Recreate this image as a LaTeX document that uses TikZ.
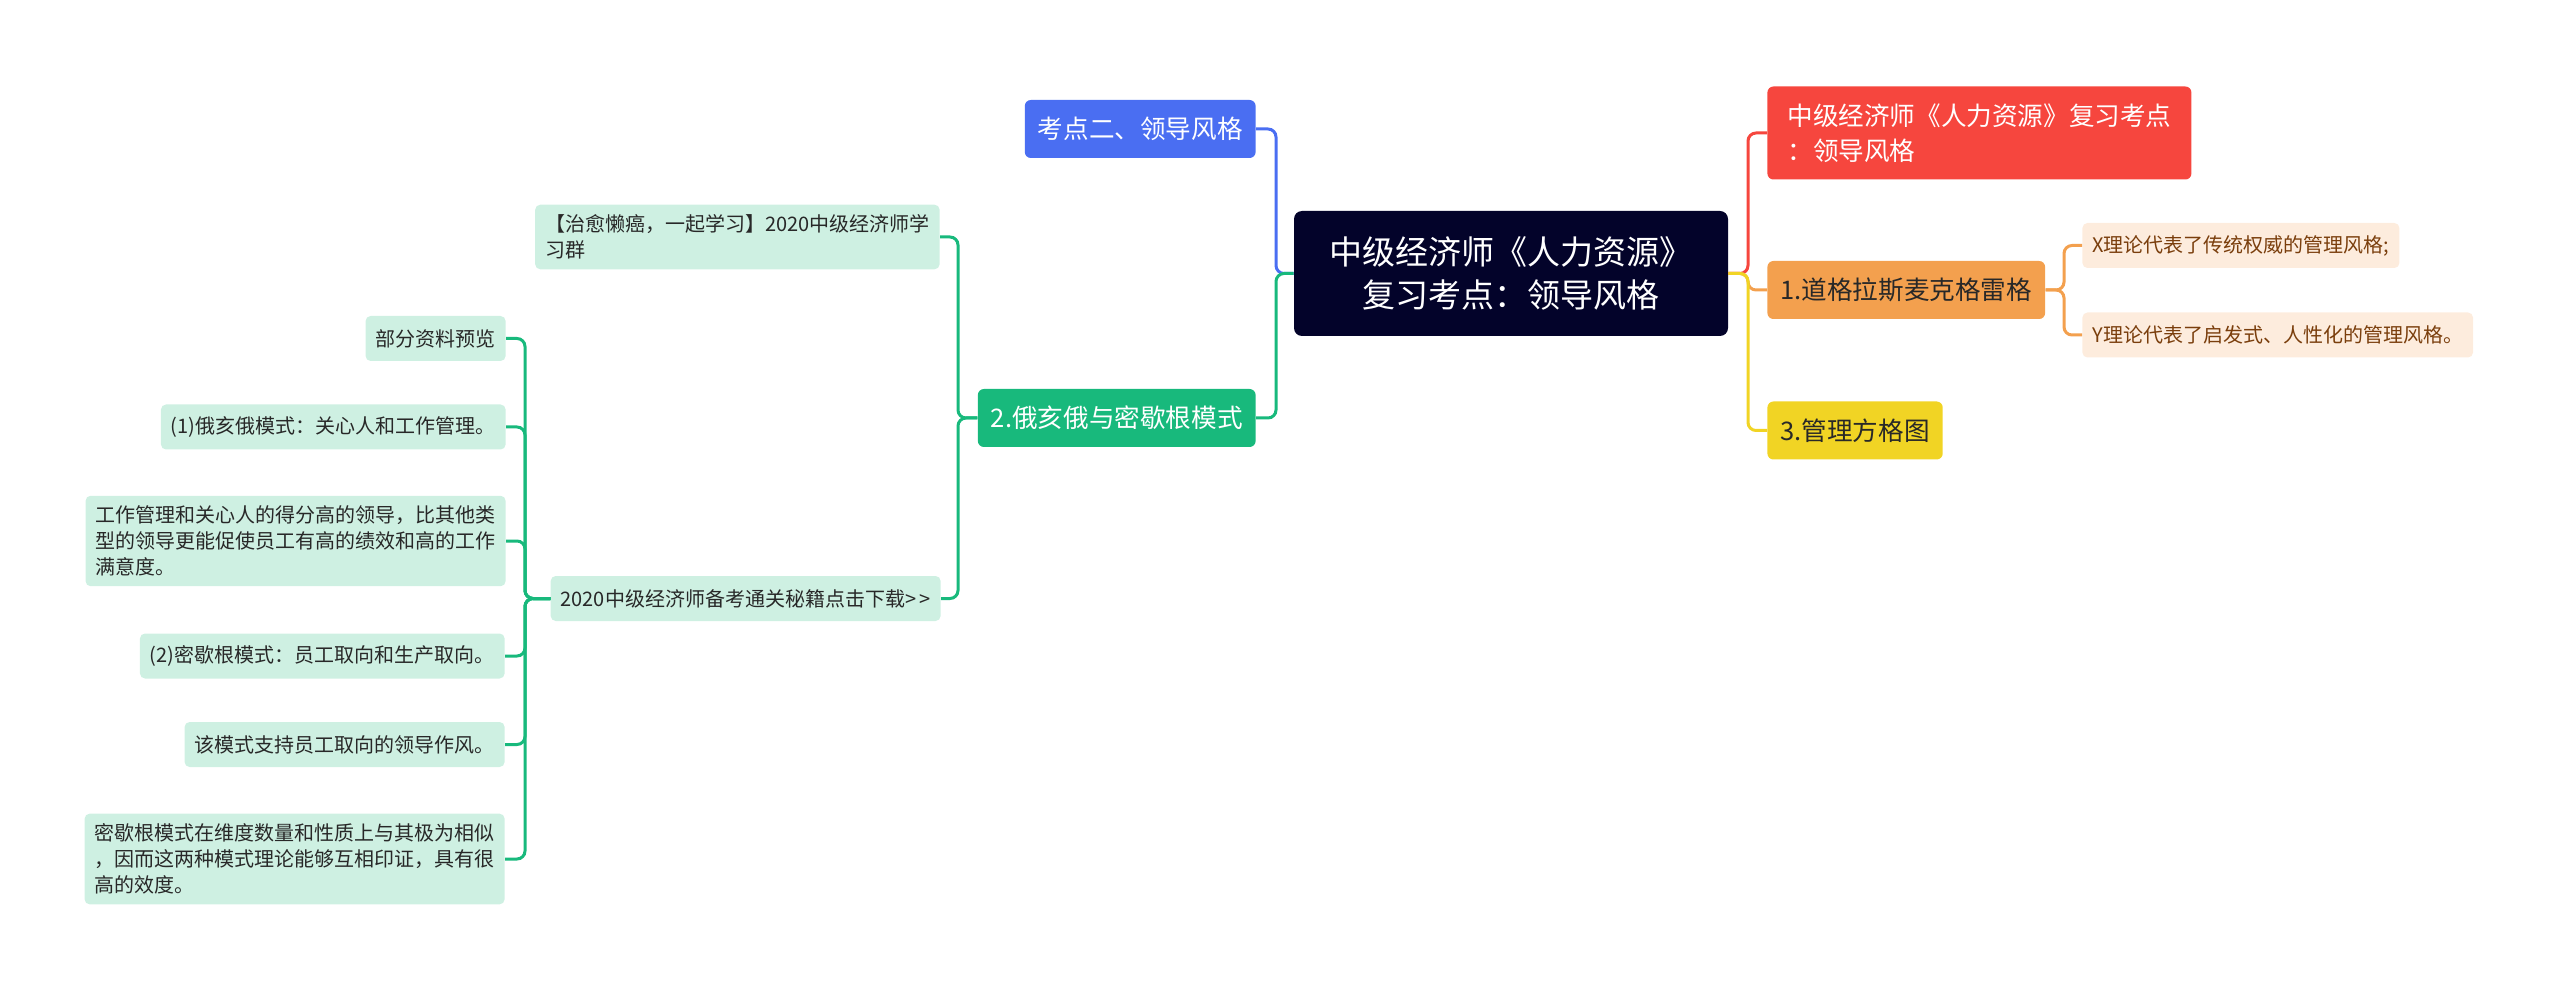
\documentclass[tikz,border=0pt]{standalone}
\usepackage{fontspec}
\setmainfont{Noto Sans CJK SC}
\usepackage{tikz}
\usetikzlibrary{positioning, calc}
\usepackage{xcolor}

\definecolor{rootnavy}{RGB}{3,3,42}
\definecolor{kblue}{RGB}{74,110,242}
\definecolor{kgreen}{RGB}{24,185,124}
\definecolor{kred}{RGB}{246,70,62}
\definecolor{korange}{RGB}{243,160,78}
\definecolor{kyellow}{RGB}{241,212,36}
\definecolor{leafgreen}{RGB}{206,240,226}
\definecolor{leaforange}{RGB}{253,236,221}
\definecolor{leafbrown}{RGB}{122,62,12}
\definecolor{darktext}{RGB}{40,40,40}

\begin{document}
\begin{tikzpicture}[
  x=0.5pt, y=-0.5pt,
  rootbox/.style = {fill=rootnavy, text=white, rounded corners=4pt,
                    font=\fontsize{16.5}{21.5}\selectfont, align=center,
                    minimum width=217pt, minimum height=62.5pt},
  topic/.style   = {rounded corners=3pt, font=\fontsize{12.8}{17.5}\selectfont,
                    inner xsep=6.5pt, minimum height=29pt, align=left},
  leaf/.style    = {fill=leafgreen, text=darktext, rounded corners=2.5pt,
                    font=\fontsize{10}{13}\selectfont, inner xsep=5pt,
                    inner ysep=5pt, minimum height=22.5pt, align=left},
  xyleaf/.style  = {leaf, fill=leaforange, text=leafbrown},
  conn/.style    = {line width=1.5pt, rounded corners=4pt}
]
\useasboundingbox (0,0) rectangle (2560,994);
% centre
\node[rootbox] (root) at (1511,273.5) {中级经济师《人力资源》\\复习考点：领导风格};
% left topics
\node[topic, fill=kblue, text=white, anchor=east] (K1) at (1256,129) {考点二、领导风格};
\node[topic, fill=kgreen, text=white, anchor=east] (K2) at (1256,418) {2.俄亥俄与密歇根模式};
% right topics
\node[topic, fill=kred, text=white, anchor=west, minimum width=212pt,
      minimum height=46.5pt] (K3) at (1767,133)
  {中级经济师《人力资源》复习考点\\：领导风格};
\node[topic, fill=korange, text=darktext, anchor=west] (K4) at (1767,290) {1.道格拉斯麦克格雷格};
\node[topic, fill=kyellow, text=darktext, anchor=west] (K5) at (1767,430.5) {3.管理方格图};
% leaves of K4
\node[xyleaf, anchor=west] (X) at (2082,245.5) {X理论代表了传统权威的管理风格;};
\node[xyleaf, anchor=west] (Y) at (2082,335) {Y理论代表了启发式、人性化的管理风格。};
% leaves of K2
\node[leaf, anchor=east] (G1) at (940,237) {【治愈懒癌，一起学习】2020中级经济师学\\习群};
\node[leaf, anchor=east] (G2) at (941,598.5) {2020中级经济师备考通关秘籍点击下载>\,>};
% leaves of G2
\node[leaf, anchor=east] (L1) at (506,338.5) {部分资料预览};
\node[leaf, anchor=east] (L2) at (506,427) {(1)俄亥俄模式：关心人和工作管理。};
\node[leaf, anchor=east] (L3) at (506,541)
  {工作管理和关心人的得分高的领导，比其他类\\型的领导更能促使员工有高的绩效和高的工作\\满意度。};
\node[leaf, anchor=east] (L4) at (505,656) {(2)密歇根模式：员工取向和生产取向。};
\node[leaf, anchor=east] (L5) at (505,744.5) {该模式支持员工取向的领导作风。};
\node[leaf, anchor=east] (L6) at (505,859)
  {密歇根模式在维度数量和性质上与其极为相似\\，因而这两种模式理论能够互相印证，具有很\\高的效度。};
% junctions
\coordinate (jl) at (1276,0);
\coordinate (jr) at (1748,0);
\coordinate (jx) at (2064,0);
\coordinate (jg) at (958,0);
\coordinate (jd) at (525,0);
% connectors
\draw[conn, kblue] (root.west) -- (jl |- root.west) |- (K1.east);
\draw[conn, kgreen] (root.west) -- (jl |- root.west) |- (K2.east);
\draw[conn, kred] (root.east) -- (jr |- root.east) |- (K3.west);
\draw[conn, korange] (root.east) -- (jr |- root.east) |- (K4.west);
\draw[conn, kyellow] (root.east) -- (jr |- root.east) |- (K5.west);
\draw[conn, korange] (K4.east) -- (jx |- K4.east) |- (X.west);
\draw[conn, korange] (K4.east) -- (jx |- K4.east) |- (Y.west);
\draw[conn, kgreen] (K2.west) -- (jg |- K2.west) |- (G1.east);
\draw[conn, kgreen] (K2.west) -- (jg |- K2.west) |- (G2.east);
\foreach \n in {L1,L2,L3,L4,L5,L6}
  \draw[conn, kgreen] (G2.west) -- (jd |- G2.west) |- (\n.east);
\end{tikzpicture}
\end{document}
